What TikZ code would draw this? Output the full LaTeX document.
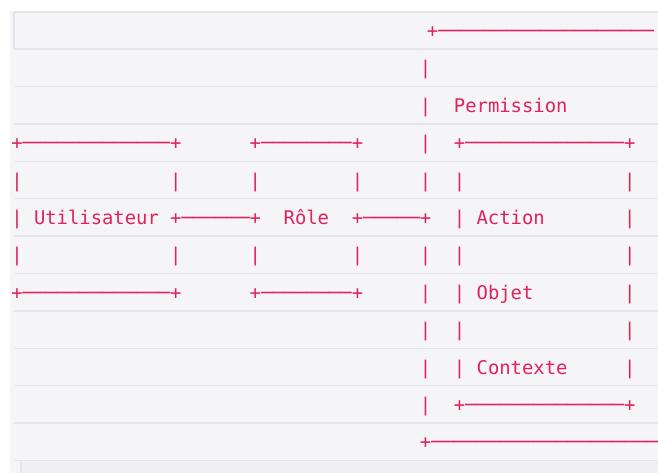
\documentclass[tikz,border=0pt]{standalone}
\usepackage{fontspec}
\newfontfamily\mono{DejaVu Sans Mono}
% 0.60205 em advance per cell: 18.852pt gives 11.35pt cells
\newcommand\codefont{\mono\fontsize{18.852pt}{22pt}\selectfont}
\definecolor{codeink}{RGB}{226,34,92}
\definecolor{pagebg}{RGB}{245,245,247}
\definecolor{rowrule}{RGB}{228,228,233}
\definecolor{footbg}{RGB}{240,240,242}
\newlength\cw
\setlength\cw{11.35pt}
% n blank character cells
\newcommand\g[1]{\hspace*{#1\cw}}
% n horizontal box-drawing segments
\ExplSyntaxOn
\cs_new:Npn \hrun #1 {\prg_replicate:nn{#1}{─}}
\ExplSyntaxOff
\tikzset{
  coderow/.style={anchor=base west, inner sep=0pt, outer sep=0pt,
                  text=codeink, font=\codefont},
  rowline/.style={draw=rowrule, line width=1.5pt},
}
\begin{document}
\begin{tikzpicture}[x=1pt,y=-1pt]
\useasboundingbox (0,0) rectangle (658,473);
\clip (0,0) rectangle (658,473);
% page and code block background
\fill[white] (0,0) rectangle (658,473);
\fill[pagebg] (10,11) rectangle (658,473);
% frame of the first line
\draw[rowline] (14,12) -- (658,12);
\draw[rowline] (14,12) -- (14,49.1);
% line separators
\foreach \i in {1,...,12}
  \draw[rowline] (14,{11.7+37.4*\i}) -- (658,{11.7+37.4*\i});
% area below the block
\fill[footbg] (21,461.3) rectangle (658,473);
\draw[rowline] (21,461.3) -- (21,473);
% the ASCII diagram, one node per line
\def\xo{11.32}
\node[coderow] (r1)  at (\xo+7,{37.4*1})  {\g{36}+\hrun{19}};
\node[coderow] (r2)  at (\xo,{37.4*2})  {\g{36}|};
\node[coderow] (r3)  at (\xo,{37.4*3})  {\g{36}|\g{2}Permission};
\node[coderow] (r4)  at (\xo,{37.4*4})  {+\hrun{13}+\g{6}+\hrun{8}+\g{5}|\g{2}+\hrun{14}+};
\node[coderow] (r5)  at (\xo,{37.4*5})  {|\g{13}|\g{6}|\g{8}|\g{5}|\g{2}|\g{14}|};
\node[coderow] (r6)  at (\xo,{37.4*6})  {|\g{1}Utilisateur\g{1}+\hrun{6}+\g{2}Rôle\g{2}+\hrun{5}+\g{2}|\g{1}Action\g{7}|};
\node[coderow] (r7)  at (\xo,{37.4*7})  {|\g{13}|\g{6}|\g{8}|\g{5}|\g{2}|\g{14}|};
\node[coderow] (r8)  at (\xo,{37.4*8})  {+\hrun{13}+\g{6}+\hrun{8}+\g{5}|\g{2}|\g{1}Objet\g{8}|};
\node[coderow] (r9)  at (\xo,{37.4*9})  {\g{36}|\g{2}|\g{14}|};
\node[coderow] (r10) at (\xo,{37.4*10}) {\g{36}|\g{2}|\g{1}Contexte\g{5}|};
\node[coderow] (r11) at (\xo,{37.4*11}) {\g{36}|\g{2}+\hrun{14}+};
\node[coderow] (r12) at (\xo,{37.4*12}) {\g{36}+\hrun{20}};
\end{tikzpicture}
\end{document}
